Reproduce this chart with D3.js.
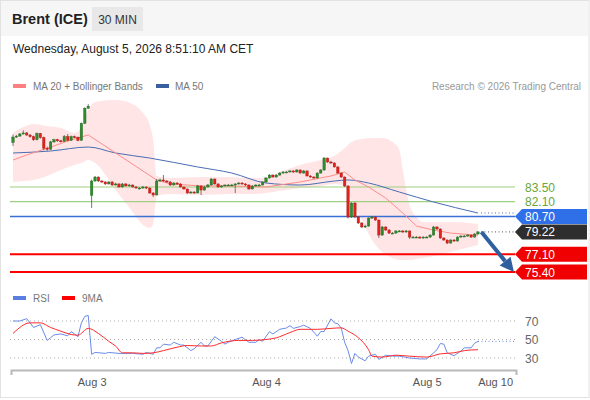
<!DOCTYPE html>
<html><head><meta charset="utf-8">
<script src="https://cdn.jsdelivr.net/npm/d3@7"></script>
<style>
body{margin:0;background:#fff;}
svg{display:block;font-family:"Liberation Sans",Arial,sans-serif;}
</style></head><body>
<svg id="c" width="590" height="400"></svg>
<script>
// ---------- DATA ----------
const closes = [88.26,88.35,88.55,88.65,88.45,88.30,88.00,88.60,88.20,87.20,
 87.10,87.80,88.00,87.90,87.85,88.30,87.95,88.30,88.25,87.95,
 89.57,91.00,91.20,
 84.07,84.45,84.07,83.98,83.79,83.98,83.69,83.79,83.50,83.79,
 83.60,83.69,83.50,83.40,83.40,83.50,83.40,82.93,82.74,84.07,
 84.17,84.07,83.98,83.69,83.88,83.79,83.50,83.31,82.93,83.02,
 82.93,83.60,83.21,83.50,83.69,84.26,83.79,83.50,83.60,83.69,
 83.69,83.69,83.79,83.88,83.79,83.69,83.31,83.60,83.69,83.69,
 83.98,84.36,84.64,84.45,84.64,84.83,84.93,84.93,85.03,84.93,
 85.12,84.83,85.03,84.55,84.45,84.36,84.83,85.12,86.26,85.88,
 85.79,85.41,84.83,84.45,83.60,80.64,81.97,80.64,80.07,79.69,
 79.78,80.54,80.64,80.35,78.92,79.69,79.40,79.11,79.11,79.31,
 79.31,79.21,79.31,78.73,78.73,78.73,78.64,78.73,78.73,78.92,
 79.69,79.50,78.64,78.45,78.16,78.45,78.35,78.73,78.83,78.83,
 78.92,78.73,79.02,79.22];
const opens = [87.74,88.26,88.35,88.55,88.65,88.45,88.30,88.00,88.60,88.20,
 87.20,87.10,87.80,88.00,87.90,87.85,88.30,87.95,88.30,88.25,
 87.95,89.57,91.00,
 82.70,84.07,84.45,84.07,83.98,83.79,83.98,83.69,83.79,83.50,
 83.79,83.60,83.69,83.50,83.40,83.40,83.50,83.40,82.93,82.74,
 84.07,84.17,84.07,83.98,83.69,83.88,83.79,83.50,83.31,82.93,
 83.02,82.93,83.60,83.21,83.50,83.69,84.26,83.79,83.50,83.60,
 83.69,83.69,83.69,83.79,83.88,83.79,83.69,83.31,83.60,83.69,
 83.69,83.98,84.36,84.64,84.45,84.64,84.83,84.93,84.93,85.03,
 84.93,85.12,84.83,85.03,84.55,84.45,84.36,84.83,85.12,86.26,
 85.88,85.79,85.41,84.83,84.45,83.60,80.64,81.97,80.64,80.07,
 79.69,79.78,80.54,80.64,80.35,78.92,79.69,79.40,79.11,79.11,
 79.31,79.31,79.21,79.31,78.73,78.73,78.73,78.64,78.73,78.73,
 78.92,79.69,79.50,78.64,78.45,78.16,78.45,78.35,78.73,78.83,
 78.83,78.92,78.73,79.02];
const highs = [88.50,88.45,88.65,88.90,88.75,88.55,88.40,88.70,88.65,88.30,
 87.35,87.90,88.10,88.10,88.00,88.45,88.55,88.40,88.40,88.30,
 89.65,91.10,91.40,
 84.20,84.55,84.50,84.15,84.05,84.05,84.05,83.90,83.85,83.88,
 83.85,83.80,83.75,83.60,83.50,83.60,83.55,83.45,83.00,84.26,
 84.30,84.64,84.15,84.05,83.95,83.95,83.85,83.55,83.35,83.10,
 83.10,83.70,83.65,83.60,83.78,84.35,84.30,83.85,83.68,83.75,
 83.78,83.80,83.85,83.95,83.95,83.85,83.75,83.68,83.75,83.80,
 84.05,84.45,84.72,84.70,84.72,84.90,85.00,85.02,85.10,85.10,
 85.20,85.18,85.10,85.08,84.62,84.52,84.90,85.20,86.35,86.30,
 85.98,85.85,85.48,84.90,84.50,83.65,82.05,82.05,80.75,80.15,
 79.90,80.62,80.74,80.70,80.40,79.78,79.75,79.48,79.20,79.38,
 79.40,79.38,79.40,79.35,78.82,78.82,78.80,78.80,78.82,79.00,
 79.78,79.75,79.55,78.70,78.50,78.52,78.52,78.80,78.90,78.92,
 79.00,78.98,79.10,79.30];
const lows = [87.40,88.18,88.30,88.50,88.40,88.20,87.90,87.95,88.10,87.00,
 86.95,87.05,87.70,87.80,87.75,87.80,87.85,87.90,88.15,87.85,
 87.90,89.50,90.95,
 81.50,84.00,84.00,83.90,83.70,83.75,83.60,83.65,83.45,83.45,
 83.55,83.55,83.45,83.35,83.30,83.35,83.30,82.85,82.55,82.70,
 84.00,84.00,83.90,83.60,83.65,83.70,83.45,83.25,82.85,82.88,
 82.85,82.90,82.74,83.15,83.45,83.65,83.72,83.45,83.45,83.55,
 83.60,83.60,82.93,83.75,83.72,83.60,83.25,83.28,83.55,83.60,
 83.65,83.92,84.30,84.40,84.40,84.58,84.78,84.85,84.88,84.85,
 84.88,84.78,84.78,84.50,84.38,84.30,84.30,84.78,85.05,85.80,
 85.72,85.35,84.75,84.38,83.50,80.50,80.55,80.55,79.98,79.60,
 79.60,79.72,80.45,80.28,78.64,78.85,79.32,79.02,79.02,79.05,
 79.22,79.14,79.15,78.55,78.65,78.66,78.58,78.58,78.66,78.66,
 78.86,79.42,78.55,78.38,78.06,78.10,78.28,78.30,78.68,78.75,
 78.78,78.66,78.68,78.96];

const ma20Idx = [0,4,11,17,22,42,46,55,63,74,84,93,97,100,104,109,114,118,123,128,136];
const ma20Val = [86.07,86.55,87.31,87.98,88.46,84.17,83.79,83.60,83.60,83.50,83.98,84.55,84.93,84.17,83.50,82.45,81.02,79.78,79.40,79.11,78.90];
// MA 50
const ma50Idx = [0,11,22,30,40,54,64,74,84,94,98,104,113,123,136];
const ma50Val = [86.74,86.93,87.31,86.74,86.26,85.41,84.83,83.88,83.69,84.07,84.17,83.88,83.02,82.07,81.02];
// Bollinger bands
const bbIdx = [0,3,6,10,14,18,20,22,24,30,35,38,40,41,42,46,55,63,70,74,78,84,90,94,97,99,102,105,108,111,113,114,116,118,120,128,136];
const bbUpper = [88.65,89.22,89.51,89.32,89.12,88.65,89.22,90.84,91.60,91.79,91.41,90.55,89.41,87.98,84.55,84.36,84.45,84.45,84.36,84.36,84.93,85.60,86.07,86.46,87.22,87.79,88.08,88.17,88.17,87.79,87.03,85.12,81.78,80.64,80.16,80.16,79.97];
const bbLower = [83.98,84.07,84.17,84.55,85.12,85.60,85.79,86.07,85.79,83.21,81.12,79.88,79.59,79.97,82.64,82.83,82.74,82.83,82.83,82.93,83.12,83.40,83.60,83.79,83.60,82.26,80.35,78.45,77.30,76.73,76.54,76.54,76.54,76.64,76.73,77.30,77.97];

// Levels
const levelSupportRes = [83.50, 82.10];
const levelPivot = 80.70;
const levelTargets = [77.10, 75.40];
const lastPrice = 79.22;

// RSI (sampled by candle index)
const rsiIdx = [0,2,4,5,6,8,10,11,12,14,16,17,18,19,20,21,22,23,24,27,28,31,35,38,39,41,42,43,44,46,47,49,50,52,53,55,56,57,59,61,62,63,65,67,69,71,72,73,75,76,78,80,81,82,84,85,87,89,90,91,93,94,95,96,97,98,99,100,101,103,104,106,107,109,111,113,116,119,121,123,124,125,126,127,128,129,131,132,134,135,136];
const rsiVal = [70,70,72.5,68,63,66,49,52,55,56,54,58.5,56,53,68,75,76,34,36,35,36,35,35,34,36,34,41,41,45,44,47,44,44,38,40,47,43,43,53,48,45,47,50,52.5,47,47,50,48,58.5,56,61,62.5,65,62,64,65.5,62,53.6,58.6,58.6,72.3,68,67,62.5,47,38,24,35,31,27,32,34,28.5,33,32,32,30,29,29,35.5,39,45.7,45,35.5,34,32.5,37.5,41,41,46,48];
const rsiMaIdx = [0,5,8,11,14,17,19,22,25,28,30,32,35,38,41,44,48,51,55,58,61,66,70,74,77,81,84,89,93,96,98,101,104,105,108,112,116,121,125,129,132,136];
const rsiMaVal = [56.5,68,68,63,59,55.4,54.7,62,56.5,48,43,35.6,35.6,35,35.6,38,41.7,43.5,43,43,46.4,49,49,50,51.8,57.5,61,61,62,62.6,59,52,39,32,31,33,32,31,34.5,35.6,38,39];
const rsiLevels = [70, 50, 30];

// X ticks
const tickLabels = ["Aug 3", "Aug 4", "Aug 5", "Aug 10"];
const tickIdx = [23, 74, 121, 141];

// ---------- DRAW ----------
const W = 590, H = 400;
const svg = d3.select('#c');
const FONT = '"Liberation Sans",Arial,sans-serif';

svg.append('rect').attr('x',0.5).attr('y',0.5).attr('width',W-1.5).attr('height',H-3).attr('fill','#fff').attr('stroke','#e2e2e2');
svg.append('rect').attr('x',1).attr('y',1).attr('width',W-3).attr('height',35).attr('fill','#f6f6f6');
svg.append('text').attr('x',12).attr('y',24).text('Brent (ICE)').attr('font-size',14.5).attr('font-weight','bold').attr('fill','#222');
svg.append('rect').attr('x',92).attr('y',7).attr('width',51).attr('height',24).attr('fill','#e8e8e8');
svg.append('text').attr('x',117.5).attr('y',23.5).attr('text-anchor','middle').text('30 MIN').attr('font-size',12).attr('fill','#333');
svg.append('text').attr('x',13).attr('y',53).text('Wednesday, August 5, 2026 8:51:10 AM CET').attr('font-size',12).attr('fill','#222');

// legend
svg.append('rect').attr('x',13).attr('y',84).attr('width',13).attr('height',4).attr('fill','#ff8080');
svg.append('text').attr('x',33).attr('y',90).text('MA 20 + Bollinger Bands').attr('font-size',10).attr('fill','#777');
svg.append('rect').attr('x',156).attr('y',84).attr('width',13).attr('height',4).attr('fill','#3a5f9f');
svg.append('text').attr('x',175).attr('y',90).text('MA 50').attr('font-size',10).attr('fill','#777');
svg.append('text').attr('x',581).attr('y',90).attr('text-anchor','end').text('Research \u00A9 2026 Trading Central').attr('font-size',10).attr('fill','#999');

const n = closes.length;
const x = d3.scaleLinear().domain([0, n-1]).range([13, 478]);
const y = d3.scaleLinear().domain([75.40, 83.50]).range([272, 187]);
const plotL = 10, plotR = 515;

// Bollinger band area
const bb = bbIdx.map((d,i)=>({i:d, up:bbUpper[i], lo:bbLower[i]}));
svg.append('path').datum(bb)
  .attr('d', d3.area().x(d=>x(d.i)).y0(d=>y(d.lo)).y1(d=>y(d.up)).curve(d3.curveMonotoneX))
  .attr('fill','rgba(255,80,80,0.15)');

// levels
levelSupportRes.forEach(v=>{
  svg.append('line').attr('x1',plotL).attr('x2',plotR).attr('y1',y(v)).attr('y2',y(v)).attr('stroke','#9fcf80').attr('stroke-width',1.2);
  svg.append('text').attr('x',525).attr('y',y(v)+4.5).text(v.toFixed(2)).attr('font-size',12).attr('fill','#67a63a');
});
svg.append('line').attr('x1',plotL).attr('x2',plotR).attr('y1',y(levelPivot)).attr('y2',y(levelPivot)).attr('stroke','#3a6fd8').attr('stroke-width',1.5);
levelTargets.forEach(v=>{
  svg.append('line').attr('x1',plotL).attr('x2',plotR).attr('y1',y(v)).attr('y2',y(v)).attr('stroke','#ff0000').attr('stroke-width',2);
});

// MA lines
const lineGen = d3.line().x(d=>x(d[0])).y(d=>y(d[1])).curve(d3.curveMonotoneX);
svg.append('path').datum(ma50Idx.map((d,i)=>[d,ma50Val[i]])).attr('d',lineGen).attr('fill','none').attr('stroke','#4a6db3').attr('stroke-width',1);
const lineLin = d3.line().x(d=>x(d[0])).y(d=>y(d[1]));
svg.append('path').datum(ma20Idx.map((d,i)=>[d,ma20Val[i]])).attr('d',lineLin).attr('fill','none').attr('stroke','#ff8c8c').attr('stroke-width',1);

// candles
const bw = (x(1)-x(0))*0.72;
const cg = svg.append('g');
d3.range(n).forEach(i=>{
  const up = closes[i] >= opens[i];
  const col = up ? '#2e8b2e' : '#e3211c';
  cg.append('line').attr('x1',x(i)).attr('x2',x(i)).attr('y1',y(highs[i])).attr('y2',y(lows[i])).attr('stroke','#555').attr('stroke-width',0.8);
  const top = y(Math.max(opens[i],closes[i])), bot = y(Math.min(opens[i],closes[i]));
  cg.append('rect').attr('x',x(i)-bw/2).attr('y',top).attr('width',bw).attr('height',Math.max(1,bot-top))
    .attr('fill',col).attr('stroke', up ? '#1f6a1f' : '#b01510').attr('stroke-width',0.4);
});

// dotted extensions
svg.append('line').attr('x1',x(n-1)+3).attr('x2',plotR).attr('y1',y(ma50Val[ma50Val.length-1])).attr('y2',y(ma50Val[ma50Val.length-1]))
  .attr('stroke','#4a6db3').attr('stroke-dasharray','1,2.5');
svg.append('line').attr('x1',x(n-1)+3).attr('x2',plotR).attr('y1',y(lastPrice)).attr('y2',y(lastPrice))
  .attr('stroke','#555').attr('stroke-dasharray','1,2.5');

// badges
function badge(v, col){
  const yc = y(v);
  svg.append('path').attr('d',`M${plotR},${yc} L${plotR+7},${yc-7.5} L587,${yc-7.5} L587,${yc+7.5} L${plotR+7},${yc+7.5} Z`).attr('fill',col);
  svg.append('text').attr('x',525).attr('y',yc+4.5).text(v.toFixed(2)).attr('font-size',12).attr('fill','#fff');
}
badge(levelPivot,'#2f6fe8');
badge(lastPrice,'#2e2e2e');
levelTargets.forEach(v=>badge(v,'#f00000'));

// arrow
const p0 = [x(n), y(lastPrice)], p1 = [x(n+9.5), y(levelTargets[1])];
const dx = p1[0]-p0[0], dy = p1[1]-p0[1], L = Math.hypot(dx,dy);
const ux = dx/L, uy = dy/L, hl = 14, hw = 7;
const bx = p1[0]-ux*hl, by = p1[1]-uy*hl;
svg.append('line').attr('x1',p0[0]).attr('y1',p0[1]).attr('x2',bx).attr('y2',by).attr('stroke','#2f5f9f').attr('stroke-width',4);
svg.append('path').attr('d',`M${p1[0]},${p1[1]} L${bx-uy*hw},${by+ux*hw} L${bx+uy*hw},${by-ux*hw} Z`).attr('fill','#2f5f9f');

// ---------- RSI panel ----------
const yr = d3.scaleLinear().domain([30,70]).range([358,321]);
svg.append('rect').attr('x',13).attr('y',296).attr('width',13).attr('height',4).attr('fill','#5b7fe0');
svg.append('text').attr('x',33).attr('y',302).text('RSI').attr('font-size',10).attr('fill','#777');
svg.append('rect').attr('x',62).attr('y',296).attr('width',13).attr('height',4).attr('fill','#ff0000');
svg.append('text').attr('x',82).attr('y',302).text('9MA').attr('font-size',10).attr('fill','#777');

rsiLevels.forEach(v=>{
  svg.append('line').attr('x1',plotL).attr('x2',plotR).attr('y1',yr(v)).attr('y2',yr(v)).attr('stroke','#aaa').attr('stroke-dasharray','1,3');
  svg.append('text').attr('x',525).attr('y',yr(v)+4.5).text(v).attr('font-size',12).attr('fill','#666');
});
const rl = d3.line().x(d=>x(d[0])).y(d=>yr(d[1]));
svg.append('path').datum(rsiIdx.map((d,i)=>[d,rsiVal[i]])).attr('d',rl).attr('fill','none').attr('stroke','#6a8ce8').attr('stroke-width',1);
svg.append('line').attr('x1',x(n-1)).attr('x2',plotR).attr('y1',yr(rsiVal[rsiVal.length-1])).attr('y2',yr(rsiVal[rsiVal.length-1]))
  .attr('stroke','#6a8ce8').attr('stroke-dasharray','1,2.5');
svg.append('path').datum(rsiMaIdx.map((d,i)=>[d,rsiMaVal[i]])).attr('d',rl.curve(d3.curveMonotoneX)).attr('fill','none').attr('stroke','#ff2a2a').attr('stroke-width',1);

// x axis
const xa = d3.scaleLinear().domain([x.invert(11), x.invert(516)]).range([11,516]);
const axis = d3.axisBottom(xa).tickValues(tickIdx).tickFormat((d,i)=>tickLabels[i]).tickSize(0).tickSizeOuter(5).tickPadding(8);
const gx = svg.append('g').attr('transform','translate(0,370)').call(axis);
gx.select('.domain').attr('stroke','#b8b8b8').attr('stroke-width',2);
gx.selectAll('text').attr('font-size',11).attr('fill','#555').attr('font-family',FONT);
</script>
</body></html>
